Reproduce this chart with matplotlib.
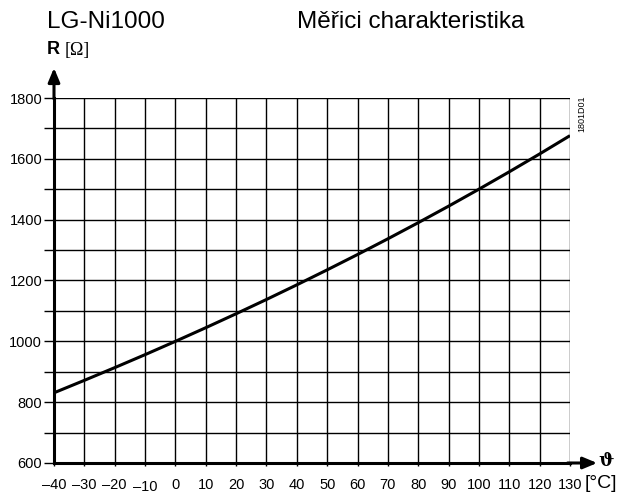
import matplotlib.pyplot as plt
import matplotlib.transforms as mtransforms

plt.rcParams['font.family'] = ['Liberation Sans', 'DejaVu Sans']

# LG-Ni1000 characteristic
temp = [-40, -30, -20, -10, 0, 10, 20, 30, 40, 50, 60, 70, 80, 90, 100, 110, 120, 130]
res = [830.8, 871.7, 913.5, 956.2, 1000.0, 1044.8, 1090.7, 1137.6, 1185.7, 1235.0,
       1285.4, 1337.1, 1390.1, 1444.4, 1500.2, 1557.4, 1616.1, 1676.3]

x_ticks = list(range(-40, 140, 10))
y_ticks = list(range(600, 1900, 100))
y_labels = [str(v) if v % 200 == 0 else '' for v in y_ticks]
x_labels = [str(v).replace('-', '\u2013') for v in x_ticks]

fig = plt.figure(figsize=(6.22, 4.97), dpi=100)
ax = fig.add_axes([54 / 622, 34 / 497, 516 / 622, 365 / 497])

ax.plot(temp, res, color='black', lw=2.2, solid_capstyle='butt', zorder=3)

ax.set_xlim(-40, 130)
ax.set_ylim(600, 1800)
ax.set_xticks(x_ticks)
ax.set_xticklabels(x_labels, fontsize=10.5)
ax.set_yticks(y_ticks)
ax.set_yticklabels(y_labels, fontsize=10.5)
ax.tick_params(axis='y', length=7.5, width=1, pad=1)
ax.tick_params(axis='x', length=2.5, width=1, pad=8)
ax.grid(True, color='black', lw=1)

# the "-10" label sits a bit lower in the original
lbl = ax.get_xticklabels()[3]
lbl.set_transform(lbl.get_transform() + mtransforms.ScaledTranslation(0, -2 / 100, fig.dpi_scale_trans))

for s in ['top', 'right']:
    ax.spines[s].set_visible(False)
ax.spines['left'].set_linewidth(2.2)
ax.spines['bottom'].set_linewidth(2.2)

# axis arrows
arrow = dict(arrowstyle='-|>,head_length=0.6,head_width=0.25', color='black', lw=2.2, mutation_scale=14)
ax.annotate('', xy=(0, 1.09), xytext=(0, 0.99), xycoords='axes fraction', arrowprops=arrow)
ax.annotate('', xy=(1.058, 0), xytext=(0.99, 0), xycoords='axes fraction', arrowprops=arrow)

fig.text(47 / 622, 1 - 28 / 497, 'LG-Ni1000', fontsize=17.5, va='baseline')
fig.text(297 / 622, 1 - 28 / 497, 'Měřici charakteristika', fontsize=17.5, va='baseline')
fig.text(47 / 622, 1 - 50 / 497, 'R', fontsize=13, fontweight='bold', va='center')
fig.text(65 / 622, 1 - 50 / 497, '[Ω]', fontsize=13, va='center', family=['Liberation Serif'])
fig.text(617 / 622, 1 - 484 / 497, '[°C]', fontsize=14, va='center', ha='right')
fig.text(606 / 622, 1 - 461 / 497, 'ϑ', fontsize=13, fontweight='bold', va='center', ha='center',
         family=['DejaVu Serif'])
fig.text(582 / 622, 1 - 114 / 497, '1801D01', fontsize=6.5, rotation=90, va='center', ha='center')

fig.savefig('out.png', dpi=100)
